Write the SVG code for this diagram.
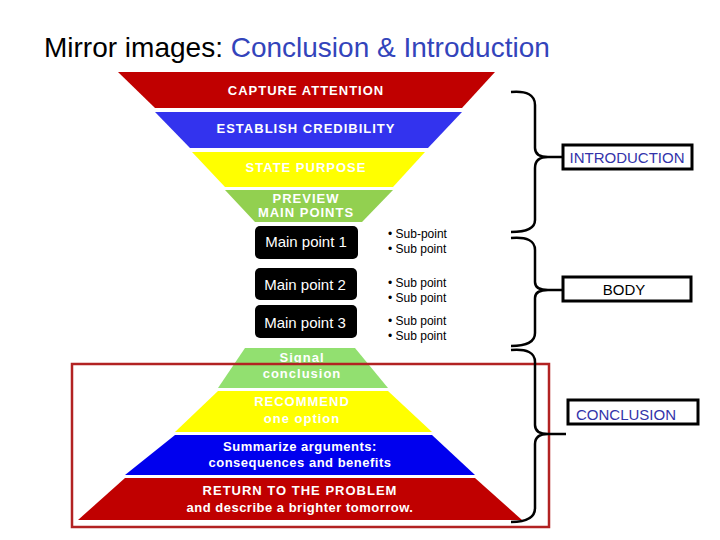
<svg xmlns="http://www.w3.org/2000/svg" width="720" height="540" viewBox="0 0 720 540">
<style>
.w{font-family:"Liberation Sans",Arial,sans-serif;font-weight:bold;fill:#fff;text-anchor:middle;font-size:13px;letter-spacing:1px}
.mp{font-family:"Liberation Sans",Arial,sans-serif;fill:#fff;font-size:15px;text-anchor:middle}
.sp{font-family:"Liberation Sans",Arial,sans-serif;fill:#000;font-size:12px}
.br{fill:none;stroke:#000;stroke-width:2.5}
.bx{fill:#fff;stroke:#000;stroke-width:3}
.lb{font-family:"Liberation Sans",Arial,sans-serif;font-size:15px;text-anchor:middle}
</style>
<rect width="720" height="540" fill="#fff"/>
<text x="44" y="57" font-family="Liberation Sans,Arial,sans-serif" font-size="28" fill="#000">Mirror images: <tspan fill="#3344bb">Conclusion &amp; Introduction</tspan></text>
<g id="capture"><polygon points="118,72 495,72 462,108 155,108" fill="#c00000"/><text class="w" x="306" y="95">CAPTURE ATTENTION</text></g>
<g id="credibility"><polygon points="155,112 462,112 428,148 190,148" fill="#3333ee"/><text class="w" x="306" y="133">ESTABLISH CREDIBILITY</text></g>
<g id="purpose"><polygon points="192,152 425,152 393,187 225,187" fill="#ffff00"/><text class="w" x="306" y="172">STATE PURPOSE</text></g>
<g id="preview"><polygon points="225,190 393,190 362,222 255,222" fill="#92d050"/><text class="w" x="306" y="203">PREVIEW</text><text class="w" x="306" y="217">MAIN POINTS</text></g>
<g id="mp1"><rect x="255" y="226" width="103" height="33" rx="5" fill="#000"/><text class="mp" x="306" y="247">Main point 1</text><text class="sp" x="388" y="238">• Sub-point</text><text class="sp" x="388" y="253">• Sub point</text></g>
<g id="mp2"><rect x="255" y="268" width="102" height="32" rx="5" fill="#000"/><text class="mp" x="305" y="290">Main point 2</text><text class="sp" x="388" y="287">• Sub point</text><text class="sp" x="388" y="302">• Sub point</text></g>
<g id="mp3"><rect x="255" y="305" width="102" height="33" rx="5" fill="#000"/><text class="mp" x="305" y="328">Main point 3</text><text class="sp" x="388" y="325">• Sub point</text><text class="sp" x="388" y="340">• Sub point</text></g>
<g id="signal"><polygon points="245,348 355,348 388,388 218,388" fill="#92e070"/><text class="w" x="302" y="362">Signal</text><text class="w" x="302" y="378">conclusion</text></g>
<g id="recommend"><polygon points="218,391 388,391 432,432 175,432" fill="#ffff00"/><text class="w" x="302" y="406">RECOMMEND</text><text class="w" x="302" y="423">one option</text></g>
<g id="summarize"><polygon points="175,435 432,435 475,475 125,475" fill="#0000ee"/><text class="w" x="300" y="451" style="letter-spacing:0.5px">Summarize arguments:</text><text class="w" x="300" y="467" style="letter-spacing:0.5px">consequences and benefits</text></g>
<g id="return"><polygon points="125,478 475,478 522,520 78,520" fill="#c00000"/><text class="w" x="300" y="495">RETURN TO THE PROBLEM</text><text class="w" x="300" y="512" style="letter-spacing:0.5px">and describe a brighter tomorrow.</text></g>
<rect x="72" y="364" width="477" height="163" fill="none" stroke="#b22222" stroke-width="2.5"/>
<g id="connectors">
<path class="br" d="M511,92 Q535,90 535,105 L535,148 Q535,157 548,157 L563,157 M548,157 Q535,157 535,168 L535,220 Q535,232 511,232"/>
<path class="br" d="M511,238 Q535,236 535,250 L535,282 Q535,290 548,290 L563,290 M548,290 Q535,290 535,298 L535,333 Q535,346 511,346"/>
<path class="br" d="M511,350 Q535,348 535,362 L535,425 Q535,434 548,434 L566,434 M548,434 Q535,434 535,444 L535,508 Q535,522 511,522"/>
</g>
<g id="intro"><rect class="bx" x="563" y="145" width="129" height="24"/><text class="lb" x="627" y="163" fill="#3333aa">INTRODUCTION</text></g>
<g id="body"><rect class="bx" x="563" y="277" width="128" height="24"/><text class="lb" x="624" y="295" fill="#000">BODY</text></g>
<g id="conclusion"><rect class="bx" x="568" y="400" width="130" height="24"/><text class="lb" x="626" y="420" fill="#3333aa">CONCLUSION</text></g>
</svg>
